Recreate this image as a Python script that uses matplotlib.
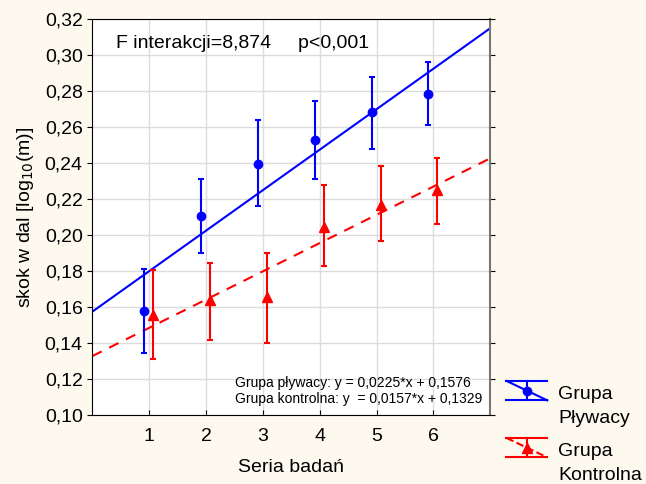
import numpy as np
import matplotlib.pyplot as plt
from matplotlib.lines import Line2D
from matplotlib.legend_handler import HandlerBase

plt.rcParams['font.family'] = ['Liberation Sans', 'DejaVu Sans']

# dane
seria = np.array([1, 2, 3, 4, 5, 6])
plyw_mean = [0.158, 0.2106, 0.2394, 0.2528, 0.2685, 0.2787]
plyw_low = [0.1346, 0.1902, 0.2161, 0.2313, 0.2482, 0.2611]
plyw_high = [0.1815, 0.2311, 0.2639, 0.2744, 0.288, 0.2963]
kontr_mean = [0.1556, 0.1639, 0.1657, 0.2046, 0.2167, 0.225]
kontr_low = [0.1315, 0.142, 0.1404, 0.1828, 0.1967, 0.2065]
kontr_high = [0.1806, 0.1846, 0.190, 0.2278, 0.2383, 0.2432]
plyw_fit = (0.0225, 0.1576)
kontr_fit = (0.0157, 0.1329)
etykiety = ['Grupa\nPływacy', 'Grupa\nKontrolna']


class ErrHandler(HandlerBase):
    # ikonka legendy: dwie poziome kreski, pionowa, skos i znacznik
    def __init__(self, color, marker, ms, ls):
        super().__init__()
        self.color, self.marker, self.ms, self.ls = color, marker, ms, ls

    def create_artists(self, legend, orig_handle, xdescent, ydescent,
                       width, height, fontsize, trans):
        cy = height / 2 + fontsize * 0.8
        h = fontsize * 0.5
        x0, x1, xm = 0, width, width / 2
        kw = dict(color=self.color, lw=1.5, transform=trans)
        arts = [Line2D([x0, x1], [cy + h, cy + h], **kw),
                Line2D([x0, x1], [cy - h, cy - h], **kw),
                Line2D([xm, xm], [cy - h, cy + h], **kw),
                Line2D([x0, x1], [cy + h, cy - h], ls=self.ls, **kw),
                Line2D([xm], [cy], marker=self.marker, ms=self.ms, ls='none',
                       color=self.color, transform=trans)]
        return arts


bg = '#fdf9ee'
fig = plt.figure(figsize=(6.46, 4.84), dpi=100, facecolor=bg)
ax = fig.add_axes([0.143, 0.142, 0.616, 0.818])
ax.set_facecolor('white')

xx = np.array([0, 7])
ax.plot(xx, plyw_fit[0] * xx + plyw_fit[1], color='#0000ff', lw=1.5, zorder=2)
ax.plot(xx, kontr_fit[0] * xx + kontr_fit[1], color='#ff0000', lw=1.5,
        ls=(0, (5, 4)), zorder=2)

pm = np.array(plyw_mean)
km = np.array(kontr_mean)
eb1 = ax.errorbar(seria - 0.09, pm, yerr=[pm - plyw_low, np.array(plyw_high) - pm],
                  fmt='o', color='#0000ff', ms=6, elinewidth=1.5, capsize=2.5,
                  capthick=1.5, zorder=3)
eb2 = ax.errorbar(seria + 0.07, km, yerr=[km - kontr_low, np.array(kontr_high) - km],
                  fmt='^', color='#ff0000', ms=7, elinewidth=1.5, capsize=2.5,
                  capthick=1.5, zorder=3)

ax.set_xlim(0, 7)
ax.set_ylim(0.10, 0.32)
ax.set_xticks(seria)
yt = np.arange(0.10, 0.321, 0.02)
ax.set_yticks(yt)
ax.set_yticklabels([f'{v:.2f}'.replace('.', ',') for v in yt])
ax.grid(True, color='#dcdcdc', lw=1)
ax.set_axisbelow(True)
ax.tick_params(axis='x', direction='in', labelsize=14, pad=9)
ax.tick_params(axis='y', direction='out', labelsize=14, right=True)
ax.spines['right'].set_color('#777777')
ax.spines['right'].set_linewidth(1.5)

ax.set_xlabel('Seria badań', fontsize=14, labelpad=10)
ax.set_ylabel('skok w dal [log$_{10}$(m)]', fontsize=14, labelpad=6)

ax.text(0.06, 0.96, 'F interakcji=8,874     p<0,001', transform=ax.transAxes,
        fontsize=14, va='top')
ax.text(0.358, 0.1, 'Grupa pływacy: y = 0,0225*x + 0,1576\n'
        'Grupa kontrolna: y  = 0,0157*x + 0,1329',
        transform=ax.transAxes, fontsize=10, va='top', linespacing=1.2)

leg = fig.legend([eb1, eb2], etykiety, loc='upper left',
                 bbox_to_anchor=(0.778, 0.21), frameon=False, fontsize=14,
                 handlelength=2.1, handletextpad=0.55, labelspacing=0.85,
                 borderaxespad=0, borderpad=0.2,
                 handler_map={eb1: ErrHandler('#0000ff', 'o', 6, '-'),
                              eb2: ErrHandler('#ff0000', '^', 7, '--')})
for t in leg.get_texts():
    t.set_linespacing(1.5)

fig.savefig('out.png', dpi=100, facecolor=bg)
